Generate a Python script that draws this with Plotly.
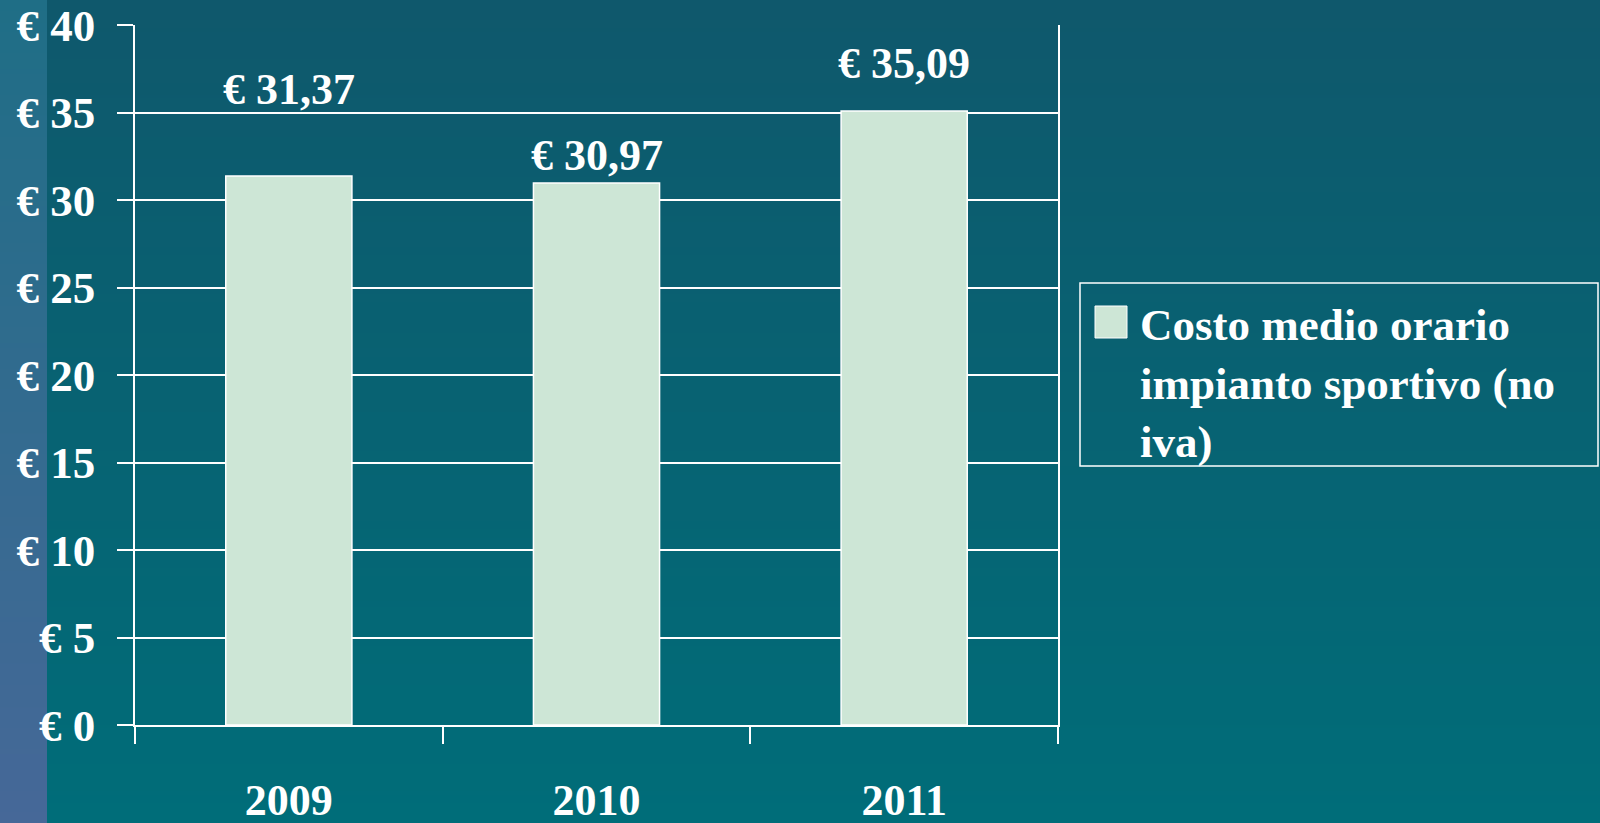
import base64
import struct
import zlib

import plotly.graph_objects as go

# Data
years = ["2009", "2010", "2011"]
costs = [31.37, 30.97, 35.09]
# label positions (labels were placed by hand above bars)
label_y = [36.3, 32.55, 37.8]
series_name = "Costo medio orario<br>impianto sportivo (no<br>iva)"
y_ticks = [0, 5, 10, 15, 20, 25, 30, 35, 40]

bar_color = "#cde6d6"
font_family = "Liberation Serif, DejaVu Serif, serif"

# plot area in pixels, used to place decoration in paper coords
L, R, T, B = 135, 1058, 25, 725
W, H = 1600, 823
STRIP = 47


def px(x):
    return (x - L) / (R - L)


def py(y):
    return (B - y) / (B - T)


def lerp(c1, c2, t):
    return tuple(round(a + (b - a) * t) for a, b in zip(c1, c2))


def gradient_png():
    # slide-style background: vertical teal gradient + bluish strip on the left
    top_c, bot_c = (15, 88, 108), (0, 109, 121)
    strip_top, strip_bot = (31, 110, 134), (70, 104, 152)
    raw = bytearray()
    for row in range(H):
        t = row / (H - 1)
        raw += b"\x00" + bytes(lerp(strip_top, strip_bot, t)) * STRIP
        raw += bytes(lerp(top_c, bot_c, t)) * (W - STRIP)

    def chunk(tag, data):
        c = struct.pack(">I", len(data)) + tag + data
        return c + struct.pack(">I", zlib.crc32(tag + data) & 0xFFFFFFFF)

    png = b"\x89PNG\r\n\x1a\n"
    png += chunk(b"IHDR", struct.pack(">IIBBBBB", W, H, 8, 2, 0, 0, 0))
    png += chunk(b"IDAT", zlib.compress(bytes(raw), 9))
    png += chunk(b"IEND", b"")
    return "data:image/png;base64," + base64.b64encode(png).decode()


fig = go.Figure()

fig.add_trace(go.Bar(
    x=years,
    y=costs,
    name="Costo medio orario impianto sportivo (no iva)",
    marker=dict(color=bar_color, line=dict(color="white", width=1.5)),
    showlegend=False,
))

# hand placed value labels (category index as x, numeric-looking strings get misread)
for i, (v, ly) in enumerate(zip(costs, label_y)):
    fig.add_annotation(
        x=i, y=ly, xref="x", yref="y",
        text="<b>€ " + f"{v:.2f}".replace(".", ",") + "</b>",
        showarrow=False,
        font=dict(family=font_family, size=44, color="white"),
    )

# legend drawn by hand (big square swatch, wrapped text)
shapes = [
    dict(type="rect", xref="paper", yref="paper",
         x0=px(1080), x1=px(1598), y0=py(466), y1=py(283),
         line=dict(color="white", width=1.5)),
    dict(type="rect", xref="paper", yref="paper",
         x0=px(1095), x1=px(1127), y0=py(338), y1=py(306),
         fillcolor=bar_color, line=dict(color="white", width=1)),
]
fig.add_annotation(
    x=px(1138), y=py(383), xref="paper", yref="paper",
    xanchor="left", yanchor="middle", align="left",
    text="<b>" + series_name + "</b>", showarrow=False,
    font=dict(family=font_family, size=45, color="white"),
)

fig.update_layout(
    width=W, height=H,
    margin=dict(l=L, r=W - R, t=T, b=H - B),
    paper_bgcolor="#07606f",
    plot_bgcolor="rgba(0,0,0,0)",
    bargap=0.59,
    shapes=shapes,
    showlegend=False,
    font=dict(family=font_family, size=44, color="white"),
    images=[dict(
        source=gradient_png(), xref="paper", yref="paper",
        x=px(0), y=py(0), sizex=W / (R - L), sizey=H / (B - T),
        xanchor="left", yanchor="top", sizing="stretch", layer="below",
    )],
)

fig.update_yaxes(
    range=[0, 40],
    tickvals=y_ticks,
    ticktext=["<b>€ %d</b>" % v for v in y_ticks],
    ticks="outside", ticklen=16, tickcolor="white", tickwidth=1.5,
    ticklabelstandoff=13,
    showgrid=True, gridcolor="white", gridwidth=1.5,
    showline=True, linecolor="white", linewidth=1.5, mirror=True,
    zeroline=False, automargin=False,
    tickfont=dict(family=font_family, size=45, color="white"),
)
fig.update_xaxes(
    type="category",
    range=[-0.5, 2.5],
    ticks="outside", tickson="boundaries", ticklen=17, tickcolor="white", tickwidth=1.5,
    ticklabelstandoff=35,
    showline=True, linecolor="white", linewidth=1.5,
    showgrid=False, automargin=False,
    tickfont=dict(family=font_family, size=44, color="white", weight="bold"),
)

fig.write_html(
    "out.html",
    config={"displayModeBar": False},
    post_script="document.body.style.margin='0';",
)
